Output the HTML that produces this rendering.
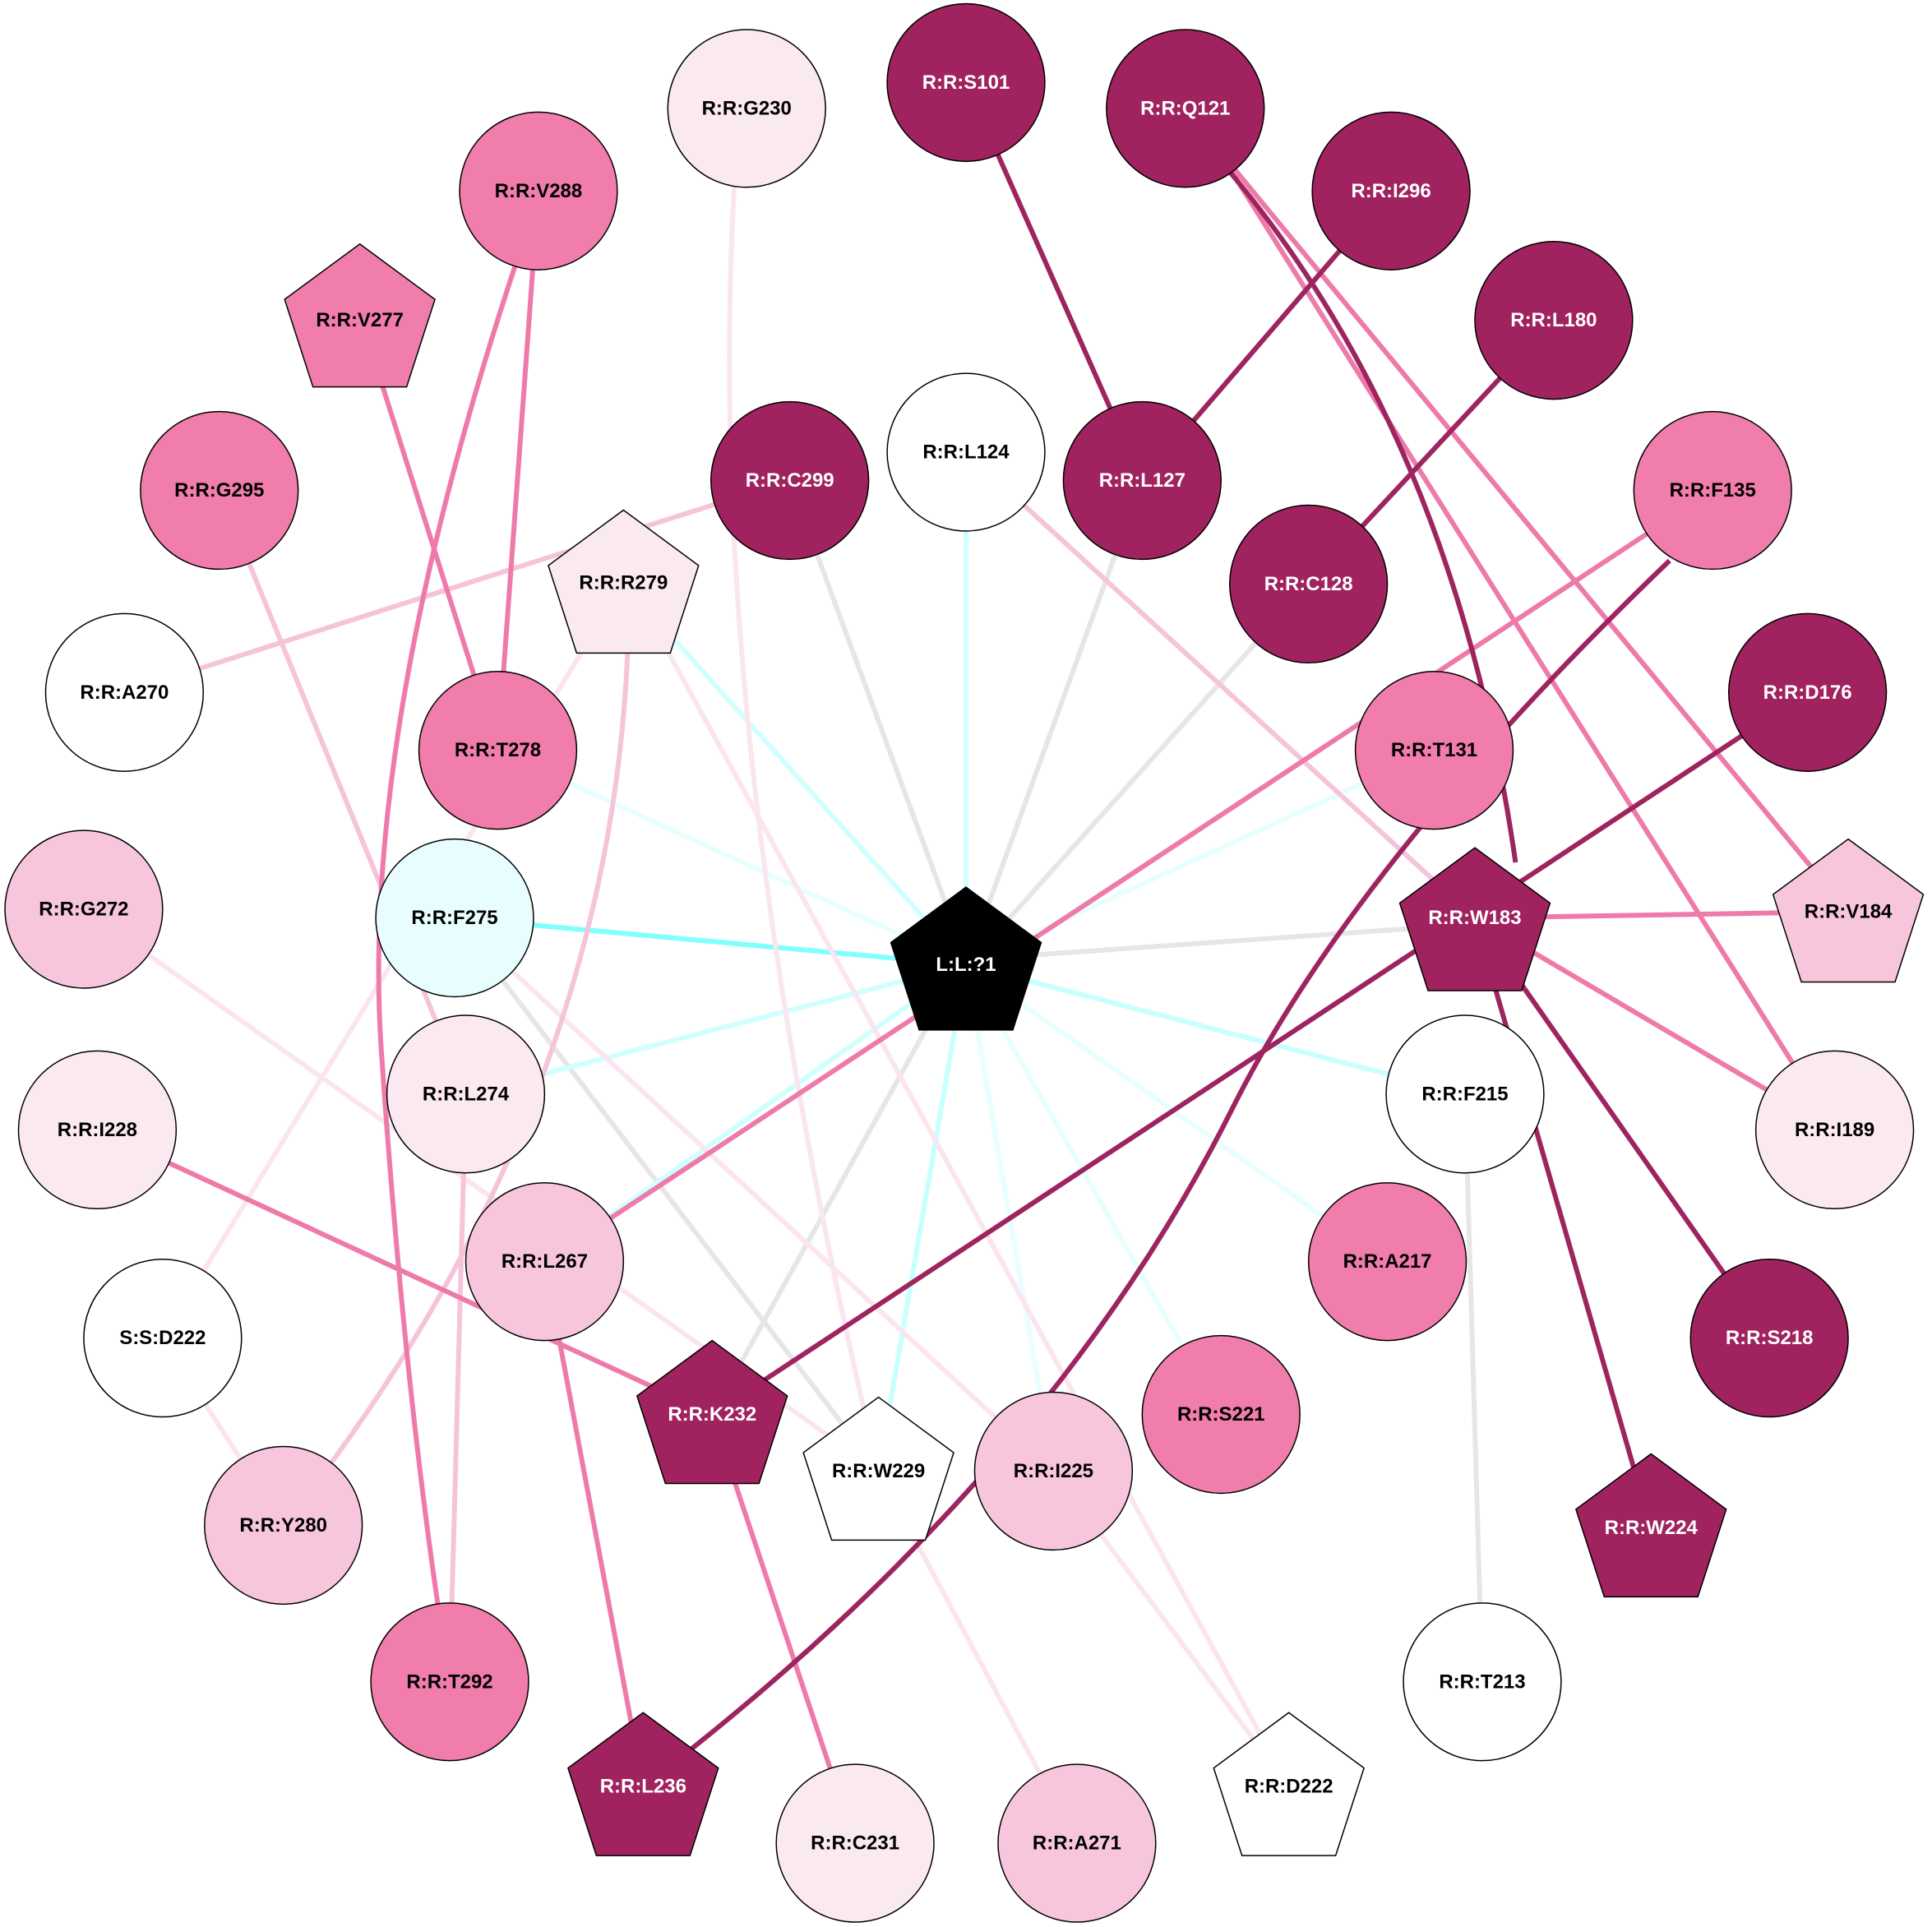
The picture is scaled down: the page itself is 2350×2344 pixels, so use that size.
<!DOCTYPE html>
<html><head><meta charset="utf-8"><style>
html,body{margin:0;padding:0;background:#fff;}
svg{display:block;}
text{font-family:"Liberation Sans",Arial,sans-serif;font-weight:bold;font-size:16px;text-anchor:middle;dominant-baseline:central;}
</style></head><body>
<svg width="2350" height="2344" viewBox="0 0 1568 1564" xmlns="http://www.w3.org/2000/svg">
<g fill="none" stroke-width="4">
<line x1="641" y1="390" x2="770" y2="740" stroke="#e6e6e6"/>
<line x1="927" y1="390" x2="800" y2="740" stroke="#e6e6e6"/>
<line x1="1062" y1="474" x2="815" y2="750" stroke="#e6e6e6"/>
<line x1="1197" y1="750" x2="840" y2="775" stroke="#e6e6e6"/>
<line x1="369" y1="745" x2="713" y2="1194" stroke="#e6e6e6"/>
<line x1="760" y1="820" x2="578" y2="1148" stroke="#e6e6e6"/>
<line x1="1189" y1="888" x2="1203" y2="1365" stroke="#e6e6e6"/>
<line x1="784" y1="367" x2="784" y2="783" stroke="#d0ffff"/>
<line x1="506" y1="473" x2="784" y2="783" stroke="#d0ffff"/>
<line x1="404" y1="609" x2="784" y2="783" stroke="#e8ffff"/>
<line x1="1164" y1="609" x2="784" y2="783" stroke="#e8ffff"/>
<line x1="369" y1="745" x2="784" y2="783" stroke="#80ffff"/>
<line x1="784" y1="783" x2="1189" y2="888" stroke="#c8ffff"/>
<line x1="784" y1="783" x2="1126" y2="1024" stroke="#e8ffff"/>
<line x1="784" y1="783" x2="991" y2="1148" stroke="#e8ffff"/>
<line x1="784" y1="783" x2="713" y2="1194" stroke="#c8ffff"/>
<line x1="784" y1="783" x2="855" y2="1194" stroke="#e8ffff"/>
<line x1="784" y1="783" x2="442" y2="1024" stroke="#d0ffff"/>
<line x1="784" y1="783" x2="378" y2="888" stroke="#d0ffff"/>
<path d="M596,150 Q570,600 713,1194" stroke="#fbe5ee"/>
<line x1="490" y1="500" x2="132" y2="1086" stroke="#fbe5ee"/>
<line x1="540" y1="525" x2="1046" y2="1450" stroke="#fbe5ee"/>
<line x1="369" y1="745" x2="855" y2="1194" stroke="#fbe5ee"/>
<line x1="68" y1="738" x2="713" y2="1194" stroke="#fbe5ee"/>
<line x1="132" y1="1086" x2="230" y2="1238" stroke="#fbe5ee"/>
<line x1="713" y1="1194" x2="874" y2="1496" stroke="#fbe5ee"/>
<line x1="855" y1="1194" x2="1046" y2="1450" stroke="#fbe5ee"/>
<line x1="641" y1="390" x2="101" y2="562" stroke="#f6c4d9"/>
<line x1="178" y1="398" x2="378" y2="888" stroke="#f6c4d9"/>
<path d="M510,510 Q500,900 230,1238" stroke="#f6c4d9"/>
<line x1="784" y1="367" x2="1197" y2="745" stroke="#f6c4d9"/>
<line x1="378" y1="888" x2="365" y2="1365" stroke="#f6c4d9"/>
<line x1="1000" y1="135" x2="1500" y2="740" stroke="#ee7aaa"/>
<line x1="1000" y1="140" x2="1489" y2="917" stroke="#ee7aaa"/>
<line x1="1197" y1="745" x2="1500" y2="740" stroke="#ee7aaa"/>
<line x1="1197" y1="745" x2="1489" y2="917" stroke="#ee7aaa"/>
<line x1="1390" y1="398" x2="442" y2="1024" stroke="#ee7aaa"/>
<line x1="437" y1="155" x2="404" y2="609" stroke="#ee7aaa"/>
<path d="M420,210 Q290,600 310,860 Q330,1150 365,1365" stroke="#ee7aaa"/>
<line x1="292" y1="255" x2="404" y2="609" stroke="#ee7aaa"/>
<line x1="79" y1="917" x2="578" y2="1148" stroke="#ee7aaa"/>
<line x1="442" y1="1024" x2="522" y2="1450" stroke="#ee7aaa"/>
<line x1="578" y1="1148" x2="694" y2="1496" stroke="#ee7aaa"/>
<line x1="784" y1="67" x2="927" y2="390" stroke="#9e2460"/>
<line x1="1129" y1="155" x2="927" y2="390" stroke="#9e2460"/>
<line x1="1261" y1="260" x2="1062" y2="474" stroke="#9e2460"/>
<path d="M990,130 Q1180,350 1230,700" stroke="#9e2460"/>
<path d="M1355,455 Q1100,700 1000,900 Q850,1200 522,1450" stroke="#9e2460"/>
<line x1="1467" y1="562" x2="578" y2="1148" stroke="#9e2460"/>
<line x1="1197" y1="745" x2="1436" y2="1086" stroke="#9e2460"/>
<line x1="1197" y1="745" x2="1340" y2="1240" stroke="#9e2460"/>
</g>
<g stroke="#000" stroke-width="1">
<circle cx="606" cy="88" r="64" fill="#fbe9f1"/>
<circle cx="784" cy="67" r="64" fill="#a0225e"/>
<circle cx="962" cy="88" r="64" fill="#a0225e"/>
<circle cx="437" cy="155" r="64" fill="#f07dab"/>
<circle cx="1129" cy="155" r="64" fill="#a0225e"/>
<polygon transform="translate(292,262)" points="0,-64 61,-19 38,52 -38,52 -61,-19" fill="#f07dab"/>
<circle cx="1261" cy="260" r="64" fill="#a0225e"/>
<circle cx="178" cy="398" r="64" fill="#f07dab"/>
<circle cx="641" cy="390" r="64" fill="#a0225e"/>
<circle cx="784" cy="367" r="64" fill="#ffffff"/>
<circle cx="927" cy="390" r="64" fill="#a0225e"/>
<circle cx="1390" cy="398" r="64" fill="#f07dab"/>
<polygon transform="translate(506,478)" points="0,-64 61,-19 38,52 -38,52 -61,-19" fill="#fbe9f1"/>
<circle cx="1062" cy="474" r="64" fill="#a0225e"/>
<circle cx="101" cy="562" r="64" fill="#ffffff"/>
<circle cx="1467" cy="562" r="64" fill="#a0225e"/>
<circle cx="404" cy="609" r="64" fill="#f07dab"/>
<circle cx="1164" cy="609" r="64" fill="#f07dab"/>
<circle cx="68" cy="738" r="64" fill="#f8c6dc"/>
<circle cx="369" cy="745" r="64" fill="#e8fefe"/>
<polygon transform="translate(784,784)" points="0,-64 61,-19 38,52 -38,52 -61,-19" fill="#000"/>
<polygon transform="translate(1197,752)" points="0,-64 61,-19 38,52 -38,52 -61,-19" fill="#a0225e"/>
<polygon transform="translate(1500,745)" points="0,-64 61,-19 38,52 -38,52 -61,-19" fill="#f8c6dc"/>
<circle cx="378" cy="888" r="64" fill="#fbe9f1"/>
<circle cx="79" cy="917" r="64" fill="#fbe9f1"/>
<circle cx="1189" cy="888" r="64" fill="#ffffff"/>
<circle cx="1489" cy="917" r="64" fill="#fbe9f1"/>
<circle cx="442" cy="1024" r="64" fill="#f8c6dc"/>
<circle cx="1126" cy="1024" r="64" fill="#f07dab"/>
<circle cx="132" cy="1086" r="64" fill="#ffffff"/>
<circle cx="1436" cy="1086" r="64" fill="#a0225e"/>
<polygon transform="translate(578,1152)" points="0,-64 61,-19 38,52 -38,52 -61,-19" fill="#a0225e"/>
<polygon transform="translate(713,1198)" points="0,-64 61,-19 38,52 -38,52 -61,-19" fill="#ffffff"/>
<circle cx="991" cy="1148" r="64" fill="#f07dab"/>
<circle cx="855" cy="1194" r="64" fill="#f8c6dc"/>
<polygon transform="translate(1340,1244)" points="0,-64 61,-19 38,52 -38,52 -61,-19" fill="#a0225e"/>
<circle cx="230" cy="1238" r="64" fill="#f8c6dc"/>
<circle cx="365" cy="1365" r="64" fill="#f07dab"/>
<circle cx="1203" cy="1365" r="64" fill="#ffffff"/>
<polygon transform="translate(522,1454)" points="0,-64 61,-19 38,52 -38,52 -61,-19" fill="#a0225e"/>
<polygon transform="translate(1046,1454)" points="0,-64 61,-19 38,52 -38,52 -61,-19" fill="#ffffff"/>
<circle cx="694" cy="1496" r="64" fill="#fbe9f1"/>
<circle cx="874" cy="1496" r="64" fill="#f8c6dc"/>
</g>
<g fill="#000">
<text x="606" y="88">R:R:G230</text>
<text x="437" y="155">R:R:V288</text>
<text x="292" y="260">R:R:V277</text>
<text x="178" y="398">R:R:G295</text>
<text x="784" y="367">R:R:L124</text>
<text x="1390" y="398">R:R:F135</text>
<text x="506" y="473">R:R:R279</text>
<text x="101" y="562">R:R:A270</text>
<text x="404" y="609">R:R:T278</text>
<text x="1164" y="609">R:R:T131</text>
<text x="68" y="738">R:R:G272</text>
<text x="369" y="745">R:R:F275</text>
<text x="1500" y="740">R:R:V184</text>
<text x="378" y="888">R:R:L274</text>
<text x="79" y="917">R:R:I228</text>
<text x="1189" y="888">R:R:F215</text>
<text x="1489" y="917">R:R:I189</text>
<text x="442" y="1024">R:R:L267</text>
<text x="1126" y="1024">R:R:A217</text>
<text x="132" y="1086">S:S:D222</text>
<text x="713" y="1194">R:R:W229</text>
<text x="991" y="1148">R:R:S221</text>
<text x="855" y="1194">R:R:I225</text>
<text x="230" y="1238">R:R:Y280</text>
<text x="365" y="1365">R:R:T292</text>
<text x="1203" y="1365">R:R:T213</text>
<text x="1046" y="1450">R:R:D222</text>
<text x="694" y="1496">R:R:C231</text>
<text x="874" y="1496">R:R:A271</text>
</g>
<g fill="#fff">
<text x="784" y="67">R:R:S101</text>
<text x="962" y="88">R:R:Q121</text>
<text x="1129" y="155">R:R:I296</text>
<text x="1261" y="260">R:R:L180</text>
<text x="641" y="390">R:R:C299</text>
<text x="927" y="390">R:R:L127</text>
<text x="1062" y="474">R:R:C128</text>
<text x="1467" y="562">R:R:D176</text>
<text x="784" y="783">L:L:?1</text>
<text x="1197" y="745">R:R:W183</text>
<text x="1436" y="1086">R:R:S218</text>
<text x="578" y="1148">R:R:K232</text>
<text x="1340" y="1240">R:R:W224</text>
<text x="522" y="1450">R:R:L236</text>
</g>
</svg>
</body></html>
